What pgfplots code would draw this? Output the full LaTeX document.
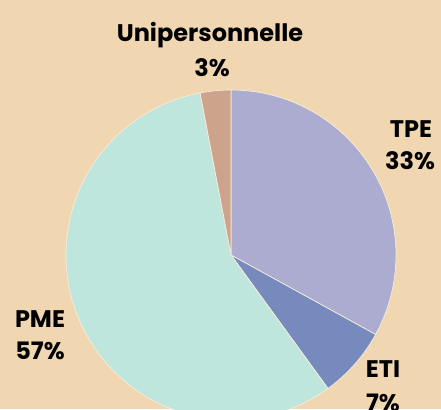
\documentclass[border=0pt]{standalone}
\usepackage{pgfplots}
\pgfplotsset{compat=1.18}
\usepackage{pgfplotstable}
\usepackage{fontspec}
\setmainfont{Poppins}
\definecolor{bg}{RGB}{240,214,177}
\definecolor{tpe}{RGB}{171,172,208}
\definecolor{eti}{RGB}{118,138,190}
\definecolor{pme}{RGB}{190,230,221}
\definecolor{uni}{RGB}{205,163,140}
\pgfplotstableread{
label value color
TPE 33 tpe
ETI 7 eti
PME 57 pme
Unipersonnelle 3 uni
}\piedata
\begin{document}
\begin{tikzpicture}
\begin{axis}[hide axis, x=1pt, y=1pt, xmin=0, xmax=441, ymin=0, ymax=409,
  scale only axis, anchor=south west, at={(0,0)}]
\pgfplotsextra{
  \begin{scope}
  \clip (axis cs:0,0) rectangle (axis cs:441,409);
  \fill[bg] (axis cs:0,0) rectangle (axis cs:441,409);
  \gdef\cum{90}
  \foreach \r in {0,1,2,3}{
    \pgfplotstablegetelem{\r}{value}\of\piedata \let\v\pgfplotsretval
    \pgfplotstablegetelem{\r}{color}\of\piedata \let\c\pgfplotsretval
    \fill[\c, draw=white!55!bg, line width=0.7pt] (axis cs:231,154) -- ++(\cum:165pt)
      arc[start angle=\cum, delta angle={-3.6*\v}, radius=165pt] -- cycle;
    \pgfmathsetmacro\newcum{\cum-3.6*\v}\xdef\cum{\newcum}
  }
  \end{scope}
}
\begin{scope}[every node/.style={font=\fontsize{24}{28}\selectfont\bfseries, anchor=base, inner sep=0pt}]
\node at (axis cs:210,367) {Unipersonnelle};
\node at (axis cs:212,332) {3\%};
\node at (axis cs:411,271) {TPE};
\node at (axis cs:410,239) {33\%};
\node at (axis cs:40,81) {PME};
\node at (axis cs:40,49) {57\%};
\node at (axis cs:383,31) {ETI};
\node at (axis cs:383,-2) {7\%};
\end{scope}
\end{axis}
\pgfresetboundingbox
\useasboundingbox (0,0) rectangle (441pt,409pt);
\end{tikzpicture}
\end{document}
